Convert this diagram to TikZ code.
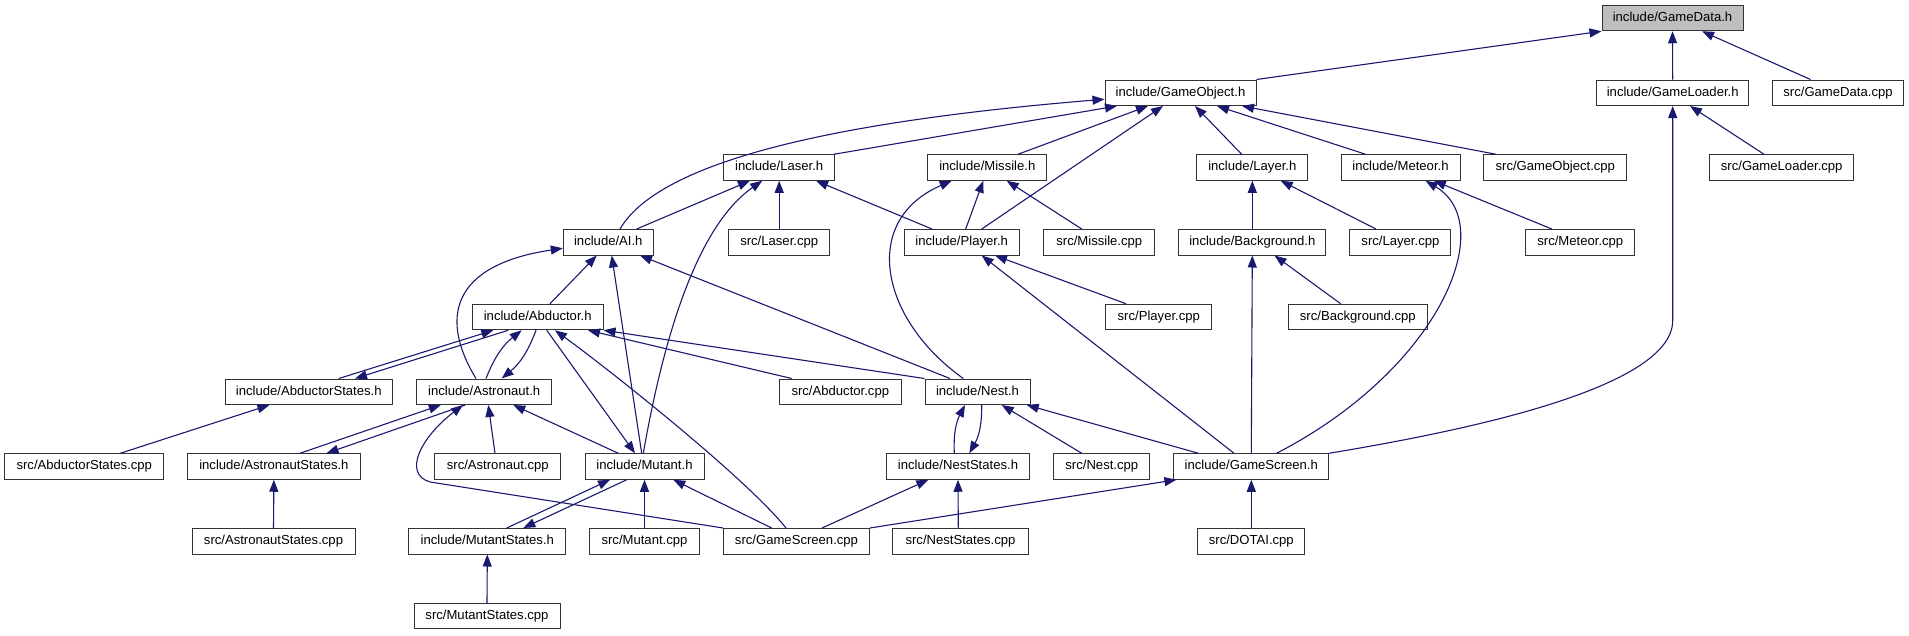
\documentclass[tikz,border=0pt]{standalone}
\usepackage{fontspec}
\setmainfont{Liberation Sans}
\usetikzlibrary{arrows.meta}
\definecolor{edgeblue}{HTML}{191970}
\definecolor{rootgray}{HTML}{BFBFBF}
\begin{document}
\begin{tikzpicture}[x=1pt,y=-1pt,
  file/.style={draw=black!80, line width=1pt, fill=white, minimum height=25.5pt, inner sep=0pt,
    text height=9.5pt, text depth=2.6pt, font=\fontsize{13.1}{15}\selectfont},
  edge/.style={draw=edgeblue, line width=1.1pt, -{Triangle[length=12pt,width=9pt]}}]
\useasboundingbox (0,0) rectangle (1909,635);
% row 0
\node[file, minimum width=141pt, fill=rootgray] (gdh) at (1672.5,18) {include/GameData.h};
% row 1
\node[file, minimum width=151pt] (goh) at (1180.5,92.75) {include/GameObject.h};
\node[file, minimum width=152.5pt] (glh) at (1672.7,92.75) {include/GameLoader.h};
\node[file, minimum width=131pt] (gdcpp) at (1838,92.75) {src/GameData.cpp};
% row 2
\node[file, minimum width=111pt] (laserh) at (779.2,167.5) {include/Laser.h};
\node[file, minimum width=119pt] (missileh) at (987.3,167.5) {include/Missile.h};
\node[file, minimum width=111pt] (layerh) at (1252.3,167.5) {include/Layer.h};
\node[file, minimum width=119pt] (meteorh) at (1400.5,167.5) {include/Meteor.h};
\node[file, minimum width=142.7pt] (gocpp) at (1555.3,167.5) {src/GameObject.cpp};
\node[file, minimum width=143.5pt] (glcpp) at (1781.7,167.5) {src/GameLoader.cpp};
% row 3
\node[file, minimum width=90pt] (aih) at (608.3,242.25) {include/AI.h};
\node[file, minimum width=101pt] (lasercpp) at (779.2,242.25) {src/Laser.cpp};
\node[file, minimum width=114.7pt] (playerh) at (961.7,242.25) {include/Player.h};
\node[file, minimum width=110.7pt] (missilecpp) at (1099.3,242.25) {src/Missile.cpp};
\node[file, minimum width=147pt] (bgh) at (1252.3,242.25) {include/Background.h};
\node[file, minimum width=101pt] (layercpp) at (1400.4,242.25) {src/Layer.cpp};
\node[file, minimum width=109.3pt] (meteorcpp) at (1580.3,242.25) {src/Meteor.cpp};
% row 4
\node[file, minimum width=130.7pt] (abdh) at (537.7,317) {include/Abductor.h};
\node[file, minimum width=106.3pt] (playercpp) at (1158.8,317) {src/Player.cpp};
\node[file, minimum width=138.4pt] (bgcpp) at (1357.8,317) {src/Background.cpp};
% row 5
\node[file, minimum width=167.6pt] (abdsh) at (308.8,391.75) {include/AbductorStates.h};
\node[file, minimum width=135pt] (astroh) at (484.2,391.75) {include/Astronaut.h};
\node[file, minimum width=122pt] (abdcpp) at (840.3,391.75) {src/Abductor.cpp};
\node[file, minimum width=105pt] (nesth) at (977.5,391.75) {include/Nest.h};
% row 6
\node[file, minimum width=158.8pt] (abdscpp) at (84.3,466.5) {src/AbductorStates.cpp};
\node[file, minimum width=172.2pt] (astrosh) at (273.9,466.5) {include/AstronautStates.h};
\node[file, minimum width=125.7pt] (astrocpp) at (497.8,466.5) {src/Astronaut.cpp};
\node[file, minimum width=119pt] (mutanth) at (644.5,466.5) {include/Mutant.h};
\node[file, minimum width=142.7pt] (nestsh) at (958,466.5) {include/NestStates.h};
\node[file, minimum width=96.3pt] (nestcpp) at (1101.8,466.5) {src/Nest.cpp};
\node[file, minimum width=154.8pt] (gsh) at (1251.3,466.5) {include/GameScreen.h};
% row 7
\node[file, minimum width=163pt] (astroscpp) at (273.5,541.25) {src/AstronautStates.cpp};
\node[file, minimum width=156.7pt] (mutantsh) at (487.3,541.25) {include/MutantStates.h};
\node[file, minimum width=109.7pt] (mutantcpp) at (644.5,541.25) {src/Mutant.cpp};
\node[file, minimum width=145.7pt] (gscpp) at (796.5,541.25) {src/GameScreen.cpp};
\node[file, minimum width=135.7pt] (nestscpp) at (960.5,541.25) {src/NestStates.cpp};
\node[file, minimum width=106.7pt] (dotaicpp) at (1251.3,541.25) {src/DOTAI.cpp};
% row 8
\node[file, minimum width=146pt] (mutantscpp) at (487,616) {src/MutantStates.cpp};

% edges
\draw[edge] (goh.north east) -- (gdh.south west);
\draw[edge] (glh.north) -- (gdh.south);
\draw[edge] ([xshift=-27.5]gdcpp.north) -- ([xshift=29.5]gdh.south);
\draw[edge] ([xshift=11.7]aih.north) .. controls +(35,-60) and +(-305,25) .. ([yshift=-6.5]goh.west);
\draw[edge] ([xshift=54.8]laserh.north) -- ([xshift=-63.5]goh.south);
\draw[edge] ([xshift=30.7]missileh.north) -- ([xshift=-32.5]goh.south);
\draw[edge] ([xshift=20]playerh.north) -- ([xshift=-17.5]goh.south);
\draw[edge] ([xshift=-10.6]layerh.north) -- ([xshift=14.5]goh.south);
\draw[edge] ([xshift=-35]meteorh.north) -- ([xshift=36.5]goh.south);
\draw[edge] ([xshift=-59.3]gocpp.north) -- ([xshift=61.5]goh.south);
\draw[edge] ([xshift=-17.7]glcpp.north) -- ([xshift=17.3]glh.south);
\draw[edge] (gsh.north east) .. controls +(120,-20) and +(0,70) .. ([yshift=-214.5]glh.south) -- (glh.south);
\draw[edge] ([xshift=28.4]aih.north) -- ([xshift=-29.2]laserh.south);
\draw[edge] (lasercpp.north) -- (laserh.south);
\draw[edge] ([xshift=-29.7]playerh.north) -- ([xshift=36.8]laserh.south);
\draw[edge] ([xshift=-1.2]mutanth.north) .. controls +(21.7,-124) and +(-63,44) .. ([xshift=-17]laserh.south);
\draw[edge] ([xshift=4]playerh.north) -- ([xshift=-4]missileh.south);
\draw[edge] ([xshift=-17.6]missilecpp.north) -- ([xshift=19.4]missileh.south);
\draw[edge] ([xshift=-14.2]nesth.north) .. controls +(-83,-59) and +(-92,40) .. ([xshift=-35.6]missileh.south);
\draw[edge] (bgh.north) -- (layerh.south);
\draw[edge] ([xshift=-24.4]layercpp.north) -- ([xshift=28.4]layerh.south);
\draw[edge] ([xshift=-28.5]meteorcpp.north) -- ([xshift=33.3]meteorh.south);
\draw[edge] ([xshift=25.3]gsh.north) .. controls +(163,-84) and +(74,44) .. ([xshift=25.1]meteorh.south);
\draw[edge] ([xshift=-32.8]playercpp.north) -- ([xshift=33.3]playerh.south);
\draw[edge] ([xshift=-17.3]gsh.north) -- ([xshift=20]playerh.south);
\draw[edge] ([xshift=-17.1]bgcpp.north) -- ([xshift=22.2]bgh.south);
\draw[edge] (gsh.north) -- (bgh.south);
\draw[edge] ([xshift=12.3]abdh.north) -- ([xshift=-11.6]aih.south);
\draw[edge] ([xshift=-8.2]astroh.north) .. controls +(-36,-59) and +(-113,17) .. ([yshift=-6]aih.west);
\draw[edge] ([xshift=-2.8]mutanth.north) -- ([xshift=3.4]aih.south);
\draw[edge] ([xshift=-27.5]nesth.north) -- ([xshift=31.7]aih.south);
\draw[edge] ([xshift=30]abdsh.north) -- ([xshift=-44.4]abdh.south);
\draw[edge] ([xshift=-29.4]abdh.south) -- ([xshift=46.2]abdsh.north);
\draw[edge] ([xshift=1.8]astroh.north) to[bend left=15] ([xshift=-16]abdh.south);
\draw[edge] ([xshift=-1.7]abdh.south) to[bend left=15] ([xshift=17.5]astroh.north);
\draw[edge] ([xshift=9]abdh.south) -- ([xshift=-9.5]mutanth.north);
\draw[edge] ([xshift=-10.5]gscpp.north) .. controls +(-40,-50) and +(55,40) .. ([xshift=17.3]abdh.south);
\draw[edge] ([xshift=-48.6]abdcpp.north) -- ([xshift=50.3]abdh.south);
\draw[edge] (nesth.north west) -- (abdh.south east);
\draw[edge] ([xshift=26.1]astrosh.north) -- ([xshift=-43.4]astroh.south);
\draw[edge] ([xshift=-18.9]astroh.south) -- ([xshift=52.6]astrosh.north);
\draw[edge] ([xshift=36.1]abdscpp.north) -- ([xshift=-39.4]abdsh.south);
\draw[edge] (astroscpp.north) -- (astrosh.south);
\draw[edge] (gscpp.north west) -- ([xshift=-293,yshift=46]gscpp.north west) .. controls +(-28,-8) and +(-42,32) .. ([xshift=-21.2]astroh.south);
\draw[edge] ([xshift=-2.8]astrocpp.north) -- ([xshift=4.1]astroh.south);
\draw[edge] ([xshift=-26.2]mutanth.north) -- ([xshift=29.1]astroh.south);
\draw[edge] ([xshift=19.4]mutantsh.north) -- ([xshift=-34.5]mutanth.south);
\draw[edge] ([xshift=-17.8]mutanth.south) -- ([xshift=36]mutantsh.north);
\draw[edge] (mutantcpp.north) -- (mutanth.south);
\draw[edge] ([xshift=-24.8]gscpp.north) -- ([xshift=28.8]mutanth.south);
\draw[edge] (mutantscpp.north) -- (mutantsh.south);
\draw[edge] ([xshift=-3.7]nestsh.north) to[bend left=15] ([xshift=-12.5]nesth.south);
\draw[edge] ([xshift=4.2]nesth.south) to[bend left=15] ([xshift=11.3]nestsh.north);
\draw[edge] ([xshift=-20.1]nestcpp.north) -- ([xshift=24.2]nesth.south);
\draw[edge] ([xshift=-53]gsh.north) -- ([xshift=49.2]nesth.south);
\draw[edge] ([xshift=25.5]gscpp.north) -- ([xshift=-29.7]nestsh.south);
\draw[edge] ([xshift=-2.2]nestscpp.north) -- (nestsh.south);
\draw[edge] (gscpp.north east) -- ([xshift=3]gsh.south west);
\draw[edge] (dotaicpp.north) -- (gsh.south);
\end{tikzpicture}
\end{document}
